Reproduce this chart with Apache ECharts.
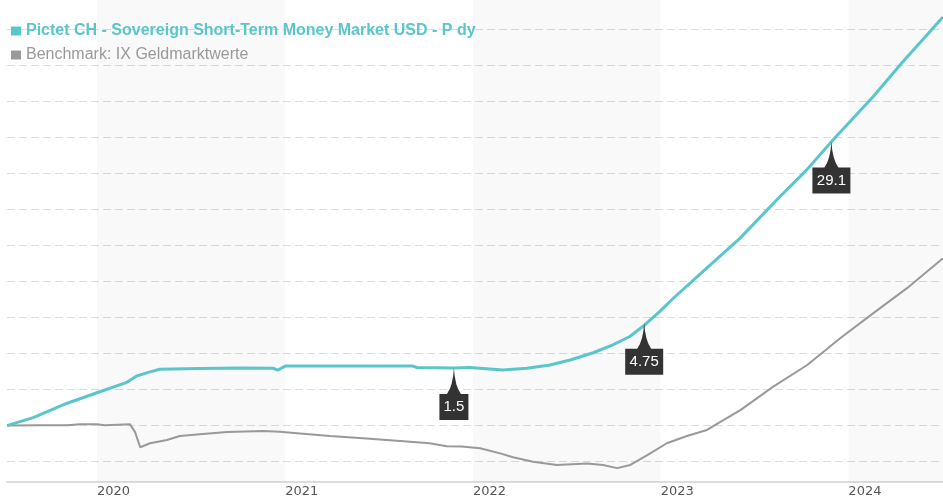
<!DOCTYPE html>
<html><head><meta charset="utf-8">
<script src="https://cdn.jsdelivr.net/npm/echarts@6/dist/echarts.min.js"></script>
<style>html,body{margin:0;padding:0;background:#fff}#c{width:943px;height:500px}</style>
</head><body><div id="c"></div>
<script>
const fundName = 'Pictet CH - Sovereign Short-Term Money Market USD - P dy';
const benchName = 'Benchmark: IX Geldmarktwerte';

const fundDates = ['2019-07-10','2019-08-30','2019-11-04','2020-01-01','2020-02-28','2020-03-09','2020-03-19','2020-04-13','2020-05-02','2020-07-19','2020-10-05','2020-12-08','2020-12-18','2021-01-01','2021-05-07','2021-09-06','2021-09-14','2021-11-25','2021-12-26','2022-02-28','2022-04-16','2022-05-31','2022-07-09','2022-08-23','2022-09-30','2022-11-02','2022-12-01','2022-12-30','2023-01-24','2023-03-31','2023-06-04','2023-08-15','2023-10-12','2023-12-02','2024-02-18','2024-04-16','2024-07-03'];
const fundValues = [0.00,0.22,0.62,0.91,1.20,1.29,1.38,1.49,1.56,1.58,1.60,1.59,1.54,1.65,1.65,1.65,1.61,1.60,1.61,1.54,1.59,1.68,1.82,2.02,2.24,2.47,2.79,3.16,3.51,4.36,5.19,6.26,7.09,7.92,9.12,10.09,11.33];

const benchDates = ['2019-07-10','2019-09-12','2019-11-04','2019-11-29','2020-01-01','2020-01-16','2020-03-05','2020-03-15','2020-03-25','2020-04-13','2020-05-16','2020-06-10','2020-07-19','2020-09-10','2020-11-19','2020-12-22','2021-01-24','2021-03-29','2021-06-01','2021-08-06','2021-10-09','2021-11-11','2021-12-10','2022-01-15','2022-02-23','2022-03-20','2022-04-28','2022-06-13','2022-08-11','2022-09-11','2022-10-08','2022-11-03','2022-12-06','2023-01-13','2023-02-21','2023-04-01','2023-06-05','2023-08-08','2023-10-13','2023-12-16','2024-02-18','2024-04-24','2024-07-03'];
const benchValues = [0.00,0.01,0.01,0.04,0.04,0.01,0.04,-0.18,-0.60,-0.49,-0.40,-0.29,-0.24,-0.18,-0.15,-0.17,-0.21,-0.29,-0.35,-0.42,-0.49,-0.57,-0.58,-0.63,-0.77,-0.88,-1.00,-1.09,-1.05,-1.09,-1.18,-1.09,-0.82,-0.49,-0.29,-0.12,0.43,1.08,1.68,2.42,3.11,3.81,4.64];

const markerDates = ['2021-11-25','2022-11-30','2023-11-29'];
const markerValues = [1.60,2.85,7.88];
const markerLabels = ['1.5','4.75','29.1'];

const yearLabels = ['2020','2021','2022','2023','2024'];
const shadedYears = ['2020','2022','2024'];

const xMin = '2019-07-10', xMax = '2024-07-03';

function spikePath(w){
  const c = w/2;
  return 'path://M'+c+' 0 Q'+(c+1)+' 18 '+(c+7)+' 26 L'+w+' 26 L'+w+' 52 L0 52 L0 26 L'+(c-7)+' 26 Q'+(c-1)+' 18 '+c+' 0 Z';
}

const chart = echarts.init(document.getElementById('c'), null, {renderer:'canvas'});
const markData = markerDates.map((d,i)=>{
  const w = markerLabels[i].length <= 3 ? 29 : 38;
  return {
    coord:[d, markerValues[i]],
    value: markerLabels[i],
    symbol: spikePath(w),
    symbolSize:[w,52],
    symbolKeepAspect:false,
    symbolOffset:[0,26],
    itemStyle:{color:'#333'},
    label:{show:true, formatter: markerLabels[i], position:[w/2,39], align:'center', verticalAlign:'middle', color:'#fff', fontSize:15, fontFamily:'Liberation Sans'}
  };
});

const option = {
  animation:false,
  backgroundColor:'#fff',
  grid:{left:7,right:0,top:0,bottom:18,containLabel:false},
  legend:{
    orient:'vertical', left:6, top:18, icon:'rect', itemWidth:10, itemHeight:9, itemGap:8,
    textStyle:{fontFamily:'Liberation Sans', fontSize:16},
    data:[
      {name:fundName, textStyle:{color:'#5bc5cc', fontWeight:'bold'}},
      {name:benchName, textStyle:{color:'#999'}}
    ],
    selectedMode:false
  },
  xAxis:{
    type:'time', min:xMin, max:xMax,
    minInterval: 365*24*3600*1000, maxInterval: 366*24*3600*1000,
    axisLine:{onZero:false, lineStyle:{color:'#ddd', width:2}},
    axisTick:{show:false},
    splitLine:{show:false},
    axisLabel:{
      color:'#555', fontFamily:'DejaVu Sans', fontSize:13, align:'left', margin:3,
      showMinLabel:false, showMaxLabel:false,
      formatter:function(v){const d=new Date(v); const y=String(d.getFullYear()); return (d.getMonth()===0 && d.getDate()===1 && yearLabels.indexOf(y)>=0)? y : '';}
    }
  },
  yAxis:{
    type:'value', min:-1.564, max:11.80, splitNumber:13,
    axisLine:{show:false}, axisTick:{show:false}, axisLabel:{show:false},
    splitLine:{show:true, showMinLine:false, showMaxLine:false, lineStyle:{color:'#dcdcdc', type:[8,4], width:1}}
  },
  series:[
    {
      name:benchName, type:'line', showSymbol:false, z:2,
      data: benchDates.map((d,i)=>[d, benchValues[i]]),
      lineStyle:{color:'#999', width:2}, itemStyle:{color:'#999'},
      markArea:{silent:true, itemStyle:{color:'rgba(0,0,0,0.025)'},
        data: shadedYears.map(y=>[{xAxis:y+'-01-01'},{xAxis:(+y+1)+'-01-01'}])}
    },
    {
      name:fundName, type:'line', showSymbol:false, z:3,
      data: fundDates.map((d,i)=>[d, fundValues[i]]),
      lineStyle:{color:'#5bc5cc', width:3}, itemStyle:{color:'#5bc5cc'},
      markPoint:{data:markData, silent:true}
    }
  ]
};
chart.setOption(option);
</script></body></html>
